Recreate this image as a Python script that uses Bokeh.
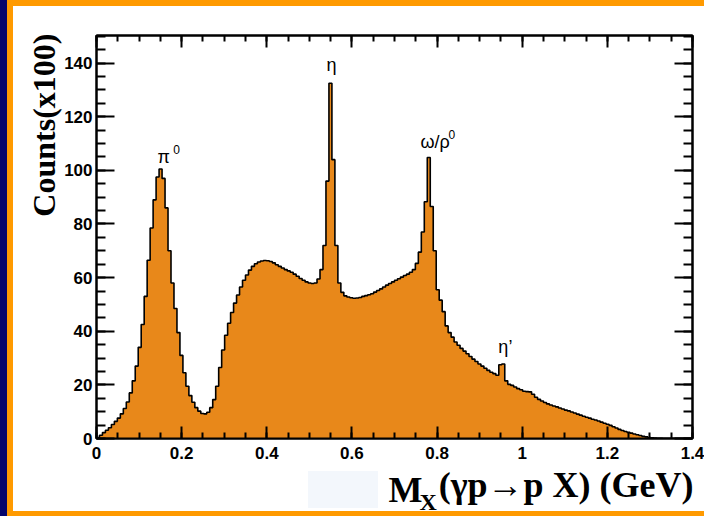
import numpy as np
from bokeh.plotting import figure
from bokeh.models import (Range1d, LinearAxis, SingleIntervalTicker, FixedTicker,
                          CustomJSTickFormatter, Label, Title)
from bokeh.embed import file_html
from bokeh.resources import INLINE

# Missing-mass spectrum, counts in units of 100, bins of 7 MeV from 0 to 1.4 GeV
bin_width = 0.007
counts = [
    0.4, 1.2, 2.2, 3.1, 4.0, 5.2, 6.4, 7.6, 9.2, 11.2,
    13.6, 17.0, 21.5, 27.0, 34.0, 42.5, 53.0, 66.5, 78.5, 89.0,
    97.5, 100.5, 97.0, 86.0, 70.0, 58.0, 48.5, 39.5, 31.0, 24.5,
    19.5, 16.0, 13.5, 11.5, 10.2, 9.3, 9.2, 9.8, 11.5, 14.5,
    19.5, 26.5, 33.0, 38.5, 43.0, 47.0, 50.5, 53.5, 56.5, 59.0,
    61.0, 62.8, 64.2, 65.2, 65.8, 66.2, 66.4, 66.3, 66.0, 65.5,
    64.8, 64.2, 63.6, 63.0, 62.5, 62.0, 61.3, 60.5, 59.7, 59.0,
    58.4, 58.0, 57.8, 58.0, 59.5, 63.0, 72.0, 96.0, 132.5, 104.0,
    72.0, 58.0, 54.5, 53.2, 52.8, 52.5, 52.3, 52.4, 52.6, 53.0,
    53.3, 53.6, 54.0, 54.6, 55.2, 55.8, 56.5, 57.2, 57.8, 58.4,
    59.0, 59.6, 60.2, 60.8, 61.3, 62.0, 63.0, 65.3, 69.5, 77.0,
    88.3, 104.8, 86.5, 70.0, 55.5, 51.6, 47.3, 42.0, 39.5, 37.8,
    36.0, 34.8, 33.6, 32.6, 31.6, 30.6, 29.6, 28.7, 27.8, 27.0,
    26.2, 25.4, 24.7, 24.2, 23.6, 27.5, 27.8, 21.5, 20.2, 19.8,
    19.2, 18.6, 18.2, 17.6, 17.5, 17.4, 16.5, 15.4, 14.6, 14.0,
    13.4, 12.9, 12.5, 12.1, 11.8, 11.4, 11.0, 10.6, 10.3, 9.9,
    9.5, 9.1, 8.7, 8.3, 7.9, 7.6, 7.2, 6.9, 6.5, 6.1,
    5.7, 5.3, 4.9, 4.4, 3.9, 3.4, 3.0, 2.6, 2.3, 2.0,
    1.7, 1.4, 1.1, 0.8, 0.6, 0.4, 0.25, 0.15, 0.08, 0.03,
    0, 0, 0, 0, 0, 0, 0, 0, 0, 0,
]
edges = np.arange(len(counts) + 1) * bin_width

# Axis ticks (GeV)
x_major_ticks = [0.0, 0.2, 0.4, 0.6, 0.8, 1.0, 1.2, 1.4]
x_tick_labels = ["0", "0.2", "0.4", "0.6", "0.8", "1", "1.2", "1.4"]
x_minor_ticks = [round(0.05 * k, 2) for k in range(29)]

# Resonance labels (name, superscript, left x, baseline y)
peak_names = ["π", "η", "ω/ρ", "η’"]
peak_sups = ["0", "", "0", ""]
peak_x = [0.143, 0.540, 0.761, 0.944]
peak_y = [105.0, 139.2, 110.7, 34.1]
sup_x = [0.180, None, 0.827, None]
sup_y = [107.6, None, 113.2, None]

x_range = (0.0, 1.4)
y_range = (0.0, 150.3)

ORANGE_FILL = "#E8881A"
BORDER_ORANGE = "#FF9A00"
NAVY = "#05056B"

# Slide-style frame around the canvas: navy + orange strip on the left,
# orange bands top and bottom, and a faint patch behind the x title.
page_background = ", ".join([
    f"linear-gradient({NAVY},{NAVY}) 0px 0px / 7px 100% no-repeat",
    f"linear-gradient({BORDER_ORANGE},{BORDER_ORANGE}) 7px 0px / 6px 100% no-repeat",
    f"linear-gradient({BORDER_ORANGE},{BORDER_ORANGE}) 0px 0px / 100% 6px no-repeat",
    f"linear-gradient({BORDER_ORANGE},{BORDER_ORANGE}) 0px 511px / 100% 5px no-repeat",
    "linear-gradient(#F3F7FC,#F3F7FC) 308px 471px / 70px 37px no-repeat",
    "white",
])

p = figure(width=704, height=516, output_backend="svg", toolbar_location=None,
           x_range=Range1d(*x_range), y_range=Range1d(*y_range),
           x_axis_location=None, y_axis_location=None,
           min_border_left=96, min_border_right=12,
           min_border_top=35, min_border_bottom=78,
           background_fill_color="white", border_fill_color=None,
           styles={"background": page_background})
p.grid.visible = False
p.outline_line_color = "black"
p.outline_line_width = 2

# Histogram as a closed step polygon
xs = [edges[0]]
ys = [0.0]
for i, c in enumerate(counts):
    xs += [edges[i], edges[i + 1]]
    ys += [c, c]
xs.append(edges[-1])
ys.append(0.0)
p.patch(xs, ys, fill_color=ORANGE_FILL, line_color=None)
p.line(xs, ys, line_color="black", line_width=1.6)

# Axes with inward ticks, mirrored on top and right
blank = CustomJSTickFormatter(code="return ''")
xfmt = CustomJSTickFormatter(
    args=dict(vals=x_major_ticks, labels=x_tick_labels),
    code="""
        for (let i = 0; i < vals.length; i++) {
            if (Math.abs(vals[i] - tick) < 1e-6) return labels[i];
        }
        return '';
    """)
yfmt = CustomJSTickFormatter(code="return tick.toFixed(0)")
label_font = "Liberation Sans"
serif = "Liberation Serif"


def make_axis(ticker, major_len, minor_len, formatter, labelled, standoff):
    return LinearAxis(ticker=ticker,
                      formatter=formatter if labelled else blank,
                      major_tick_in=major_len, major_tick_out=0,
                      minor_tick_in=minor_len, minor_tick_out=0,
                      axis_line_width=2, major_tick_line_width=2,
                      minor_tick_line_width=2,
                      major_label_standoff=standoff if labelled else 0,
                      major_label_text_font=label_font,
                      major_label_text_font_style="bold",
                      major_label_text_font_size="17px" if labelled else "0px",
                      major_label_text_color="black")


def x_ticker():
    return FixedTicker(ticks=x_major_ticks, minor_ticks=x_minor_ticks)


def y_ticker():
    return SingleIntervalTicker(interval=20, num_minor_ticks=4)


p.add_layout(make_axis(x_ticker(), 12, 6, xfmt, True, 8), "below")
p.add_layout(make_axis(x_ticker(), 12, 6, xfmt, False, 0), "above")
p.add_layout(make_axis(y_ticker(), 18, 9, yfmt, True, 4), "left")
p.add_layout(make_axis(y_ticker(), 18, 9, yfmt, False, 0), "right")

# y title, flush with the top of the axis
p.add_layout(Title(text="Counts(x100)", align="right", offset=-2,
                   vertical_align="bottom", standoff=0,
                   text_font=serif, text_font_style="bold",
                   text_font_size="32px", text_color="black"), "left")

# x title: the main text sets the row; "M" and its subscript X are zero-height
# title panels pulled back up onto that row with negative standoffs.
p.add_layout(Title(text="(γp→p X) (GeV)", align="right", offset=-1,
                   vertical_align="bottom", standoff=2,
                   text_font=serif, text_font_style="bold",
                   text_font_size="36px", text_color="black"), "below")
p.add_layout(Title(text="M", align="left", offset=292,
                   vertical_align="top", standoff=-72,
                   text_font=serif, text_font_style="bold",
                   text_font_size="36px", text_color="black"), "below")
p.add_layout(Title(text="X", align="left", offset=323,
                   vertical_align="top", standoff=-34,
                   text_font=serif, text_font_style="bold",
                   text_font_size="24px", text_color="black"), "below")

# Resonance names
for name, sup, x, y, sx, sy in zip(peak_names, peak_sups, peak_x, peak_y, sup_x, sup_y):
    p.add_layout(Label(x=x, y=y, text=name, text_font=label_font,
                       text_font_size="18px", text_align="left",
                       text_baseline="alphabetic", text_color="black"))
    if sup:
        p.add_layout(Label(x=sx, y=sy, text=sup, text_font=label_font,
                           text_font_size="12px", text_align="left",
                           text_baseline="alphabetic", text_color="black"))

open("out.html", "w").write(file_html(p, INLINE))
